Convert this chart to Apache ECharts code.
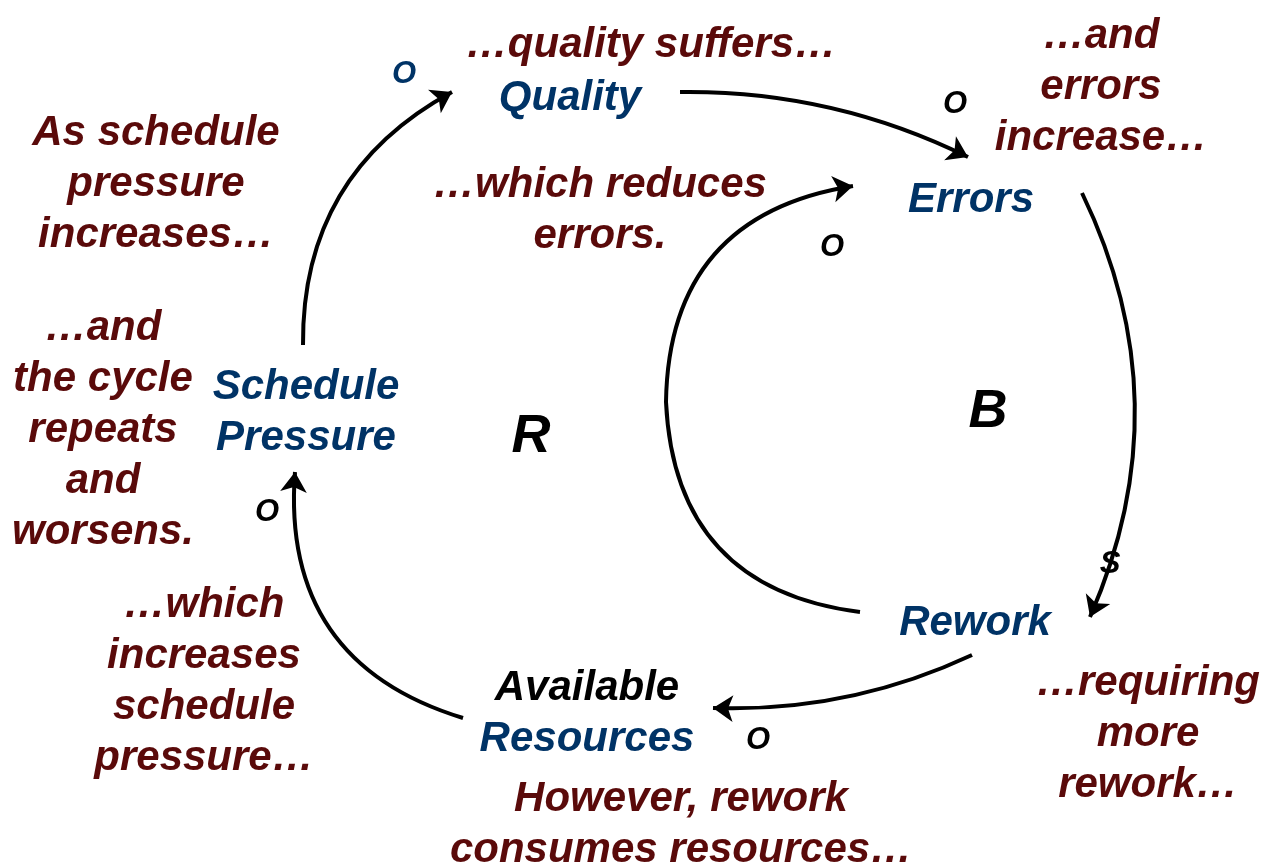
<!DOCTYPE html>
<html>
<head>
<meta charset="utf-8">
<script src="https://cdn.jsdelivr.net/npm/echarts@6/dist/echarts.min.js"></script>
<style>
html,body{margin:0;padding:0;background:#fff;}
#chart{width:1264px;height:867px;}
</style>
</head>
<body>
<div id="chart"></div>
<script>
// ---- diagram data (coordinates in diagram space, x: 0..1264, y: 0..867 downward) ----
const noteTexts = [
  '…quality suffers…',
  'As schedule\npressure\nincreases…',
  '…which reduces\nerrors.',
  '…and\nerrors\nincrease…',
  '…and\nthe cycle\nrepeats\nand\nworsens.',
  '…which\nincreases\nschedule\npressure…',
  '…requiring\nmore\nrework…',
  'However, rework\nconsumes resources…'
];
const notePoints = [[651,45],[156,184],[600,211],[1101,87],[103,430],[204,682],[1148,734],[681,825]];

const variableNames = ['Quality','Errors','Schedule\nPressure','Rework','Resources'];
const variablePoints = [[570,98],[971,200],[306,413],[975,623],[587,739]];

const blackNames = ['Available'];
const blackPoints = [[587,688]];

const loopNames = ['R','B'];
const loopPoints = [[531,437],[988,412]];

const polarityNames = ['O','O','O','O','S'];
const polarityPoints = [[955,104],[832,247],[758,740],[267,512],[1110,564]];
const bluePolarityNames = ['O'];
const bluePolarityPoints = [[404,74]];

// causal links: [from, to, curveness]
const links = [
  [[303,345],[452,92],0.30],     // Schedule Pressure -> Quality
  [[680,92],[968,157],0.12],     // Quality -> Errors
  [[1082,193],[1090,617],0.23],  // Errors -> Rework
  [[972,655],[713,708],0.12],    // Rework -> Available Resources
  [[463,718],[295,472],0.40],    // Available Resources -> Schedule Pressure
];
// Rework -> Errors (balancing loop), routed through its leftmost waypoint
const innerLinkStart = [[860,612],[666,402],0.42];
const innerLinkEnd   = [[666,402],[853,186],0.42];

const FONT = '"Liberation Sans", Arial, Helvetica, sans-serif';
const RED = '#5a0a0a';
const BLUE = '#003366';

function pts(points, names){ return points.map((p,i)=>({value:[p[0],p[1]], name:names[i]})); }

function textSeries(points, names, color, size, lh){
  return {
    type:'scatter', coordinateSystem:'cartesian2d', symbol:'circle', symbolSize:1,
    itemStyle:{color:'rgba(0,0,0,0)', opacity:1}, silent:true, z:5,
    data: pts(points, names),
    label:{show:true, position:'inside', formatter:p=>p.name, color:color, opacity:1,
      fontFamily:FONT, fontWeight:'bold', fontStyle:'italic', fontSize:size,
      lineHeight:lh, align:'center', verticalAlign:'middle'}
  };
}

function linkItem(l, arrow){
  return {coords:[l[0], l[1]], lineStyle:{curveness:l[2]},
          symbol: arrow ? ['none','arrow'] : ['none','none']};
}

const chart = echarts.init(document.getElementById('chart'));
chart.setOption({
  animation:false,
  backgroundColor:'#ffffff',
  grid:{left:0,right:0,top:0,bottom:0},
  xAxis:{type:'value',min:0,max:1264,show:false},
  yAxis:{type:'value',min:0,max:867,inverse:true,show:false},
  series:[
    {
      type:'lines', coordinateSystem:'cartesian2d', silent:true, z:3,
      symbol:['none','arrow'], symbolSize:[17,20],
      lineStyle:{color:'#000', width:4, opacity:1},
      data: links.map(l=>linkItem(l,true))
        .concat([linkItem(innerLinkStart,false), linkItem(innerLinkEnd,true)])
    },
    textSeries(notePoints, noteTexts, RED, 42, 51),
    textSeries(variablePoints, variableNames, BLUE, 42, 51),
    textSeries(blackPoints, blackNames, '#000', 42, 51),
    textSeries(loopPoints, loopNames, '#000', 54, 60),
    textSeries(polarityPoints, polarityNames, '#000', 31, 34),
    textSeries(bluePolarityPoints, bluePolarityNames, BLUE, 31, 34)
  ]
});
</script>
</body>
</html>
